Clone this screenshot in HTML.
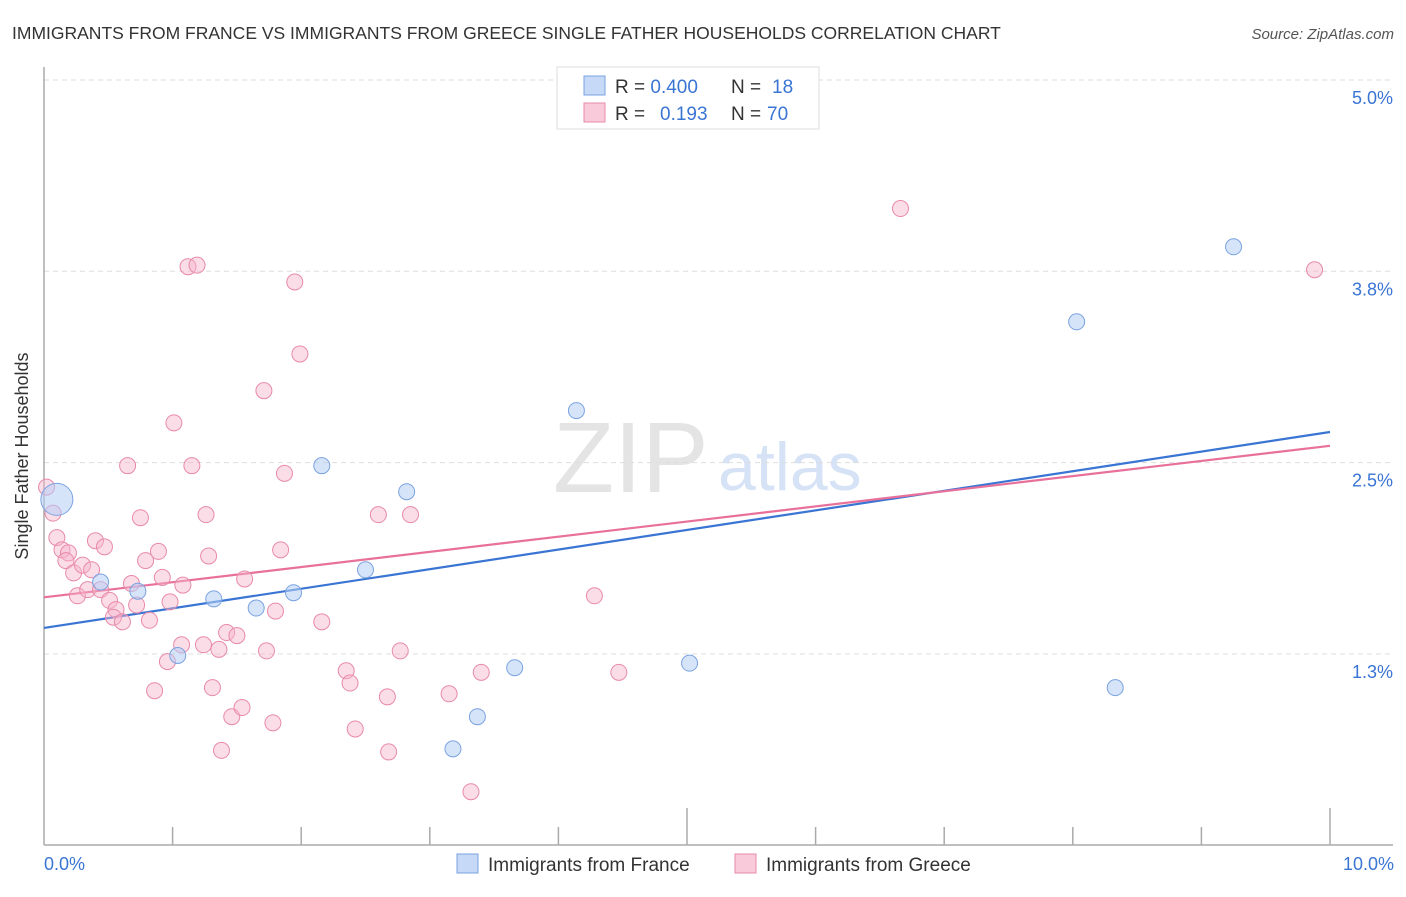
<!DOCTYPE html>
<html><head><meta charset="utf-8"><style>
body{margin:0;background:#fff;font-family:"Liberation Sans",sans-serif}
svg text{font-family:"Liberation Sans",sans-serif}
</style></head><body>
<svg id="c" width="1406" height="892" xmlns="http://www.w3.org/2000/svg">
<text x="12" y="39" font-size="17.5" fill="#333">IMMIGRANTS FROM FRANCE VS IMMIGRANTS FROM GREECE SINGLE FATHER HOUSEHOLDS CORRELATION CHART</text>
<text x="1394" y="39" font-size="15" fill="#555" font-style="italic" text-anchor="end">Source: ZipAtlas.com</text>
<g><text x="553" y="492" font-size="100" fill="#e4e4e4" font-family="Liberation Serif">ZIP</text><text x="718" y="490" font-size="68" fill="#d6e2f5">atlas</text></g>
<g id="grid"></g><g id="axes"></g><g id="lines"></g><g id="pts"></g>
<text x="28" y="456" font-size="18" fill="#333" text-anchor="middle" transform="rotate(-90 28 456)">Single Father Households</text>
<text x="44" y="870" font-size="18" fill="#3a75d4">0.0%</text>
<text x="1394" y="870" font-size="18" fill="#3a75d4" text-anchor="end">10.0%</text>
<g>
<rect x="557" y="67" width="262" height="62" fill="#fff" stroke="#ddd"/>
<rect x="584" y="76" width="21" height="19" fill="#c6d9f7" stroke="#7aa3e0"/>
<rect x="584" y="103" width="21" height="19" fill="#f9cada" stroke="#e88aa8"/>
<text x="615" y="93" font-size="19" fill="#333">R = <tspan fill="#3a75d4">0.400</tspan><tspan x="731">N = </tspan><tspan x="772" fill="#3a75d4">18</tspan></text>
<text x="615" y="120" font-size="19" fill="#333">R = <tspan x="660" fill="#3a75d4">0.193</tspan><tspan x="731">N = </tspan><tspan x="767" fill="#3a75d4">70</tspan></text>
</g>
<g>
<rect x="457" y="854" width="21" height="19" fill="#c6d9f7" stroke="#7aa3e0"/>
<text x="488" y="871" font-size="19" fill="#333">Immigrants from France</text>
<rect x="735" y="854" width="21" height="19" fill="#f9cada" stroke="#e88aa8"/>
<text x="766" y="871" font-size="19" fill="#333">Immigrants from Greece</text>
</g>
</svg>
<script>
const yTicks=[1.25,2.5,3.75,5.0];
const yTickLabels=["1.3%","2.5%","3.8%","5.0%"];
const xTicks=[1,2,3,4,5,6,7,8,9,10];
const franceX=[0.10,0.44,0.73,1.04,1.32,1.65,1.94,2.16,2.50,2.82,3.18,3.37,3.66,4.14,5.02,8.03,8.33,9.25];
const franceY=[2.26,1.72,1.66,1.24,1.61,1.55,1.65,2.48,1.80,2.31,0.63,0.84,1.16,2.84,1.19,3.42,1.03,3.91];
const greeceX=[0.02,0.07,0.10,0.14,0.19,0.17,0.23,0.30,0.26,0.37,0.40,0.47,0.34,0.44,0.51,0.56,0.54,0.61,0.65,0.68,0.72,0.75,0.79,0.82,0.86,0.89,0.92,0.96,0.98,1.01,1.07,1.08,1.12,1.19,1.15,1.24,1.26,1.28,1.31,1.36,1.38,1.42,1.46,1.50,1.54,1.56,1.71,1.73,1.78,1.80,1.84,1.87,1.95,1.99,2.16,2.35,2.38,2.42,2.60,2.67,2.68,2.77,2.85,3.15,3.32,3.40,4.28,4.47,6.66,9.88];
const greeceY=[2.34,2.17,2.01,1.93,1.91,1.86,1.78,1.83,1.63,1.80,1.99,1.95,1.67,1.67,1.60,1.54,1.49,1.46,2.48,1.71,1.57,2.14,1.86,1.47,1.01,1.92,1.75,1.20,1.59,2.76,1.31,1.70,3.78,3.79,2.48,1.31,2.16,1.89,1.03,1.28,0.62,1.39,0.84,1.37,0.90,1.74,2.97,1.27,0.80,1.53,1.93,2.43,3.68,3.21,1.46,1.14,1.06,0.76,2.16,0.97,0.61,1.27,2.16,0.99,0.35,1.13,1.63,1.13,4.16,3.76];
const franceTrend=[1.42,2.70];
const greeceTrend=[1.62,2.61];
const NS="http://www.w3.org/2000/svg";
const sx=v=>44+v*128.6, sy=v=>845.3-v*153.07;
function mk(p,t,a){const e=document.createElementNS(NS,t);for(const k in a)e.setAttribute(k,a[k]);document.getElementById(p).appendChild(e);return e;}
yTicks.forEach((t,i)=>{
 const g=mk('grid','line',{x1:44,x2:1393,y1:sy(t),y2:sy(t),stroke:'#ddd','stroke-dasharray':'5,4'});
 
 
 const l=mk('grid','text',{x:1393,y:sy(t)+24,'font-size':18,fill:'#3a75d4','text-anchor':'end'});
 l.textContent=yTickLabels[i];
 
 
});
const ax=mk('axes','line',{x1:44,x2:44,y1:67,y2:845,stroke:'#aaa','stroke-width':1.5});


const bx=mk('axes','line',{x1:44,x2:1393,y1:845,y2:845,stroke:'#aaa','stroke-width':1.5});


xTicks.forEach(t=>{
 const e=mk('axes','line',{x1:sx(t),x2:sx(t),y1:(t%5===0)?808:827,y2:845,stroke:'#aaa','stroke-width':1.5});
 
 
});
[[franceTrend,'#3a75d4','trend-france'],[greeceTrend,'#e8709a','trend-greece']].forEach(([tr,c,n])=>{
 const e=mk('lines','line',{x1:sx(0),y1:sy(tr[0]),x2:sx(10),y2:sy(tr[1]),stroke:c,'stroke-width':2.2});
 
 
});
greeceX.forEach((x,i)=>{
 const e=mk('pts','circle',{cx:sx(x),cy:sy(greeceY[i]),r:8,fill:'rgba(247,180,203,0.45)',stroke:'#e88aa8','stroke-width':1});
 
 
});
franceX.forEach((x,i)=>{
 const e=mk('pts','circle',{cx:sx(x),cy:sy(franceY[i]),r:i===0?16:8,fill:'rgba(180,205,245,0.55)',stroke:'#7aa3e0','stroke-width':1});
 
 
});
</script>
</body></html>
